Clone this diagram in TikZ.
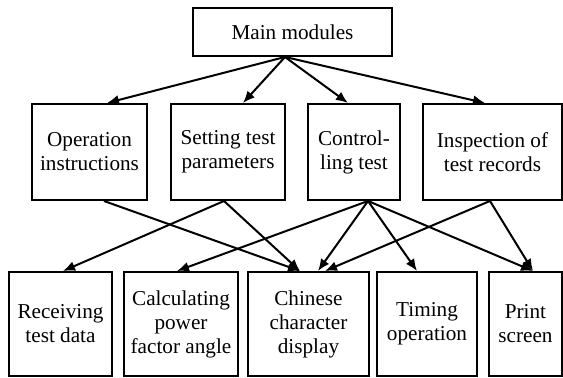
\documentclass[tikz,border=0pt]{standalone}
\usepackage{fontspec}
\setmainfont{Liberation Serif}
\usepackage{tikz}
\usetikzlibrary{arrows.meta,calc}
\tikzset{
  modbox/.style={draw, line width=1pt, align=center, inner sep=0pt,
    font=\fontsize{10.6}{12}\selectfont},
  link/.style={->, line width=1pt}
}

\begin{document}
\begin{tikzpicture}[x=0.5pt,y=-0.5pt,>={Latex[length=6pt,width=5pt]}]
  \useasboundingbox (0,0) rectangle (563,378);
  % top level
  \node[modbox, minimum width=99.5pt, minimum height=24pt] (main) at (292.5,32) {Main modules};
  % second level
  \node[modbox, minimum width=57.5pt, minimum height=48pt] (oper) at (89.5,152) {Operation\\instructions};
  \node[modbox, minimum width=57pt, minimum height=48pt] (sett) at (228,152) {Setting test\\parameters};
  \node[modbox, minimum width=46pt, minimum height=48pt] (ctrl) at (354,152) {Control-\\ling test};
  \node[modbox, minimum width=69.5pt, minimum height=48pt] (insp) at (492.5,152) {Inspection of\\test records};
  % third level
  \node[modbox, minimum width=51.5pt, minimum height=52pt] (recv) at (60.5,324) {Receiving\\test data};
  \node[modbox, minimum width=57pt, minimum height=52pt] (calc) at (181,324) {Calculating\\power\\factor angle};
  \node[modbox, minimum width=60.5pt, minimum height=52pt] (chin) at (308.5,324) {Chinese\\character\\display};
  \node[modbox, minimum width=50pt, minimum height=52pt] (timg) at (427,324) {Timing\\operation};
  \node[modbox, minimum width=36.5pt, minimum height=52pt] (prnt) at (525.5,324) {Print\\screen};

  \coordinate (hub) at ($(main.south)+(-7.5,0)$);
  \draw[link] (hub) -- ($(oper.north)+(17.5,0)$);
  \draw[link] (hub) -- ($(sett.north)+(15,0)$);
  \draw[link] (hub) -- ($(ctrl.north)+(-6,0)$);
  \draw[link] (hub) -- ($(insp.north)+(-7.5,0)$);

  \draw[link] ($(oper.south)+(14.5,0)$) -- ($(chin.north)+(-8.5,0)$);
  \draw[link] ($(sett.south)+(-4,0)$) -- ($(recv.north)+(2.5,0)$);
  \draw[link] ($(sett.south)+(-4,0)$) -- ($(chin.north)+(-8.5,0)$);
  \coordinate (ctrlout) at ($(ctrl.south)+(14,0)$);
  \draw[link] (ctrlout) -- ($(calc.north)+(-4,0)$);
  \draw[link] (ctrlout) -- ($(chin.north)+(9.5,0)$);
  \draw[link] (ctrlout) -- ($(timg.north)+(-10,0)$);
  \draw[link] (ctrlout) -- ($(prnt.north)+(7.5,0)$);
  \draw[link] ($(insp.south)+(-2.5,0)$) -- ($(chin.north)+(16.5,0)$);
  \draw[link] ($(insp.south)+(-2.5,0)$) -- ($(prnt.north)+(7.5,0)$);
\end{tikzpicture}
\end{document}
